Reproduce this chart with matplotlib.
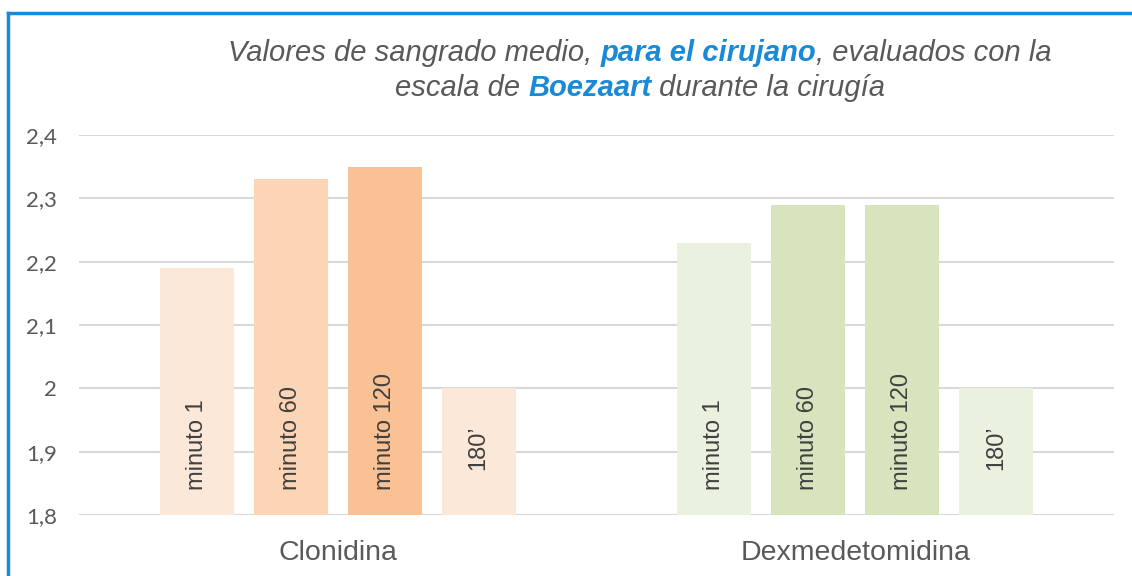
import matplotlib
matplotlib.use("Agg")
import matplotlib.pyplot as plt
import numpy as np
from matplotlib.lines import Line2D

categories = ["Clonidina", "Dexmedetomidina"]
series_labels = ["minuto 1", "minuto 60", "minuto 120", "180’"]
clonidina = [2.19, 2.33, 2.35, 2.0]
dexmed = [2.23, 2.29, 2.29, 2.0]
clon_colors = ["#fce8d9", "#fbd5b5", "#f9c194", "#fce8d9"]
dex_colors = ["#ebf1df", "#d8e4bd", "#d8e4bd", "#ebf1df"]
yticks = [1.8, 1.9, 2.0, 2.1, 2.2, 2.3, 2.4]
ytick_labels = ["1,8", "1,9", "2", "2,1", "2,2", "2,3", "2,4"]

title_lines = [
    [("Valores de sangrado medio, ", False), ("para el cirujano", True), (", evaluados con la", False)],
    [("escala de ", False), ("Boezaart", True), (" durante la cirugía", False)],
]

GRAY = "#595959"
BLUE = "#1a8ad6"
FONT = "Liberation Sans"

fig = plt.figure(figsize=(11.32, 5.76), dpi=100)
ax = fig.add_axes([79/1132, 1 - 515/576, (1114-79)/1132, (515-135)/576])

x = np.arange(len(categories))
width = 0.143
step = 0.1816
offsets = (np.arange(4) - 1.5) * step

for i, lab in enumerate(series_labels):
    vals = [clonidina[i], dexmed[i]]
    cols = [clon_colors[i], dex_colors[i]]
    ax.bar(x + offsets[i], np.array(vals) - 1.8, width, bottom=1.8, color=cols, zorder=2)
    base = 1.871 if lab.startswith("180") else 1.8395
    for xi in x:
        ax.text(xi + offsets[i], base, lab, rotation=90, ha="center", va="bottom",
                fontsize=17, color="#404040", family=FONT, zorder=3)

ax.set_xlim(-0.5, 1.5)
ax.set_ylim(1.8, 2.4)
ax.set_yticks(yticks)
ax.set_yticklabels(ytick_labels, fontsize=16, color=GRAY, family="Lato")
ax.set_xticks(x)
ax.set_xticklabels(categories, fontsize=20.5, color=GRAY, family=FONT)
ax.tick_params(axis="y", length=0, pad=16)
ax.tick_params(axis="x", length=0, pad=18)
ax.grid(axis="y", color="#d9d9d9", linewidth=1.5, zorder=0)
ax.set_axisbelow(True)
for s in ax.spines.values():
    s.set_visible(False)

# frame lines
fig.add_artist(Line2D([8/1132, 8/1132], [0, 1 - 13/576], color=BLUE, linewidth=2.5))
fig.add_artist(Line2D([8/1132, 1], [1 - 13/576, 1 - 13/576], color=BLUE, linewidth=2.5))

# multi-colored title
renderer = fig.canvas.get_renderer()
line_y = [1 - 53/576, 1 - 88/576]
center_x = 640/1132
for segs, yy in zip(title_lines, line_y):
    texts = []
    for s, bold in segs:
        t = fig.text(0, yy, s, fontsize=21, style="italic", family=FONT,
                     weight="bold" if bold else "normal", color=BLUE if bold else GRAY,
                     ha="left", va="center")
        texts.append(t)
    widths = [t.get_window_extent(renderer).width for t in texts]
    total = sum(widths)
    start = center_x * 1132 - total / 2
    for t, w in zip(texts, widths):
        t.set_x(start / 1132)
        start += w

fig.savefig("out.png", dpi=100)
